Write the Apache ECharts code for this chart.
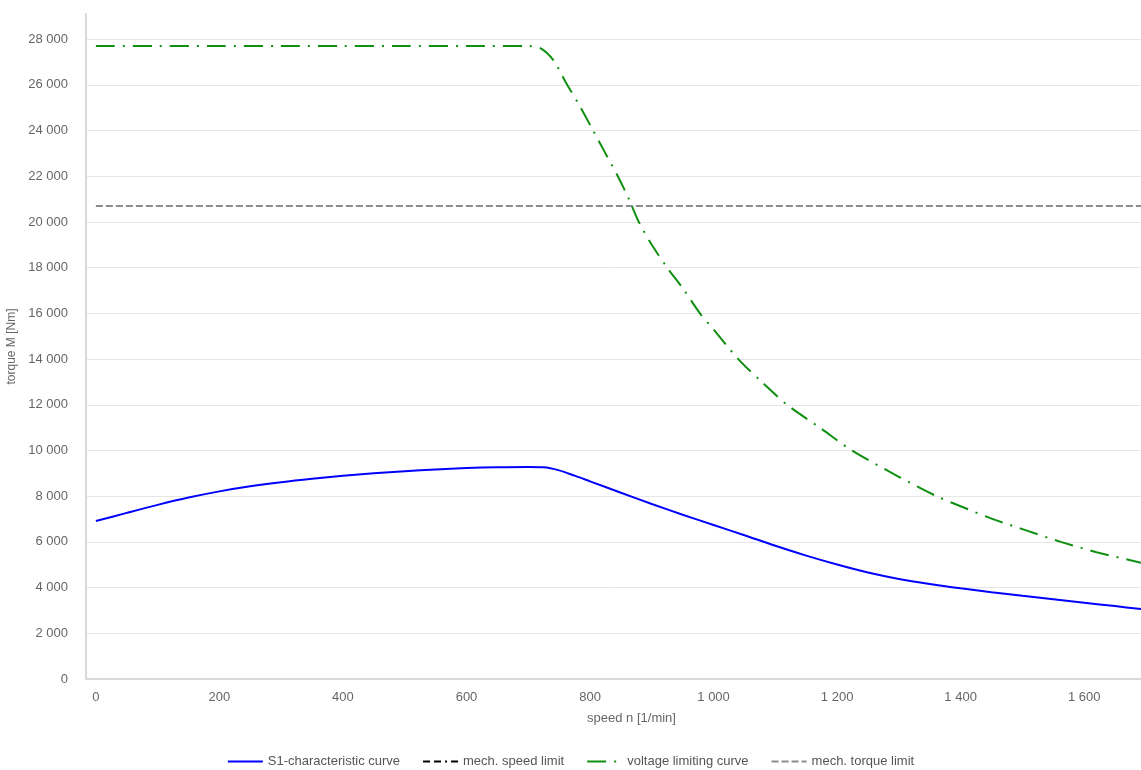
<!DOCTYPE html>
<html>
<head>
<meta charset="utf-8">
<title>Torque / speed characteristic</title>
<script src="https://cdn.jsdelivr.net/npm/echarts@6/dist/echarts.min.js"></script>
<style>
  html, body { margin: 0; padding: 0; background: #ffffff; }
  #chart { width: 1141px; height: 770px; }
</style>
</head>
<body>
<div id="chart"></div>
<script>
// Axis ticks
const speedTicks = [0, 200, 400, 600, 800, 1000, 1200, 1400, 1600];
const torqueTicks = [0, 2000, 4000, 6000, 8000, 10000, 12000, 14000, 16000, 18000, 20000, 22000, 24000, 26000, 28000];

// S1 characteristic curve
const s1Speed  = [0, 50, 100, 150, 200, 250, 300, 350, 400, 450, 500, 550, 600, 650, 700, 725, 750, 775, 800, 850, 900, 950, 1000, 1050, 1100, 1150, 1200, 1250, 1300, 1350, 1400, 1450, 1500, 1550, 1600, 1650, 1692];
const s1Torque = [6910, 7270, 7620, 7940, 8210, 8430, 8610, 8760, 8890, 9000, 9090, 9170, 9230, 9265, 9280, 9265, 9130, 8900, 8650, 8150, 7660, 7190, 6740, 6290, 5830, 5400, 5010, 4660, 4380, 4160, 3970, 3800, 3640, 3490, 3340, 3190, 3060];

// Voltage limiting curve
const voltSpeed  = [0, 100, 200, 300, 400, 500, 600, 700, 720, 740, 763, 785, 805, 825, 845, 863, 879, 900, 925, 950, 978, 1000, 1040, 1080, 1119, 1172, 1224, 1300, 1361, 1400, 1450, 1500, 1562, 1620, 1692];
const voltTorque = [27700, 27700, 27700, 27700, 27700, 27700, 27700, 27700, 27600, 27100, 26000, 25000, 24000, 23000, 22000, 21000, 20000, 19000, 18000, 17100, 16000, 15300, 14000, 12950, 12000, 11000, 10000, 8850, 8000, 7560, 7020, 6560, 6000, 5550, 5088];

// Mechanical torque limit (constant)
const torqueLimitSpeed  = [0, 1692];
const torqueLimitTorque = [20700, 20700];

// Mechanical speed limit (outside the displayed speed range)
const speedLimitSpeed  = [];
const speedLimitTorque = [];

const zip = (xs, ys) => xs.map((x, i) => [x, ys[i]]);
const fmtThousands = v => String(v).replace(/\B(?=(\d{3})+(?!\d))/g, ' ');

const labelColor = '#666666';
const fontFamily = '"Liberation Sans", Arial, sans-serif';

const chart = echarts.init(document.getElementById('chart'), null, { renderer: 'canvas' });

chart.setOption({
  animation: false,
  backgroundColor: '#ffffff',
  textStyle: { fontFamily: fontFamily },
  grid: { left: 86, right: 0, top: 14, bottom: 91, outerBoundsMode: 'none' },
  legend: {
    top: 750,
    left: 'center',
    itemWidth: 35,
    itemHeight: 14,
    itemGap: 22,
    itemStyle: { opacity: 0 },
    textStyle: { color: '#555555', fontSize: 13, fontFamily: fontFamily },
    data: ['S1-characteristic curve', 'mech. speed limit', 'voltage limiting curve', 'mech. torque limit']
  },
  xAxis: {
    type: 'value',
    min: -16,
    max: 1692,
    name: 'speed n [1/min]',
    nameLocation: 'middle',
    nameGap: 33,
    nameTextStyle: { color: labelColor, fontSize: 13, fontFamily: fontFamily, padding: [0, 0, 0, 36] },
    axisLine: { show: true, onZero: false, lineStyle: { color: '#d9d9d9', width: 2 } },
    axisTick: { show: false },
    splitLine: { show: false },
    axisLabel: {
      customValues: speedTicks,
      color: labelColor,
      fontSize: 13,
      margin: 12,
      formatter: v => fmtThousands(v)
    }
  },
  yAxis: {
    type: 'value',
    min: 0,
    max: 29100,
    interval: 2000,
    name: 'torque M [Nm]',
    nameLocation: 'middle',
    nameGap: 58,
    nameTextStyle: { color: labelColor, fontSize: 12, fontFamily: fontFamily },
    axisLine: { show: true, onZero: false, lineStyle: { color: '#d9d9d9', width: 2 } },
    axisTick: { show: false },
    splitLine: { show: true, showMaxLine: false, lineStyle: { color: '#e6e6e6', width: 1 } },
    axisLabel: {
      customValues: torqueTicks,
      color: labelColor,
      fontSize: 13,
      margin: 18,
      formatter: v => fmtThousands(v)
    }
  },
  series: [
    {
      name: 'S1-characteristic curve',
      type: 'line',
      data: zip(s1Speed, s1Torque),
      smooth: 0.3,
      symbol: 'none',
      lineStyle: { color: '#0000ff', width: 2 },
      itemStyle: { color: '#0000ff' },
      z: 4
    },
    {
      name: 'mech. speed limit',
      type: 'line',
      data: zip(speedLimitSpeed, speedLimitTorque),
      symbol: 'none',
      lineStyle: { color: '#000000', width: 2, type: [7, 4, 7, 4, 2, 4] },
      itemStyle: { color: '#000000' },
      z: 3
    },
    {
      name: 'voltage limiting curve',
      type: 'line',
      data: zip(voltSpeed, voltTorque),
      smooth: 0.3,
      symbol: 'none',
      lineStyle: { color: '#109010', width: 2, type: [19, 8, 2, 8] },
      itemStyle: { color: '#109010' },
      z: 3
    },
    {
      name: 'mech. torque limit',
      type: 'line',
      data: zip(torqueLimitSpeed, torqueLimitTorque),
      symbol: 'none',
      lineStyle: { color: '#8c8c8c', width: 2, type: [7, 3] },
      itemStyle: { color: '#8c8c8c' },
      z: 2
    }
  ]
});
</script>
</body>
</html>
